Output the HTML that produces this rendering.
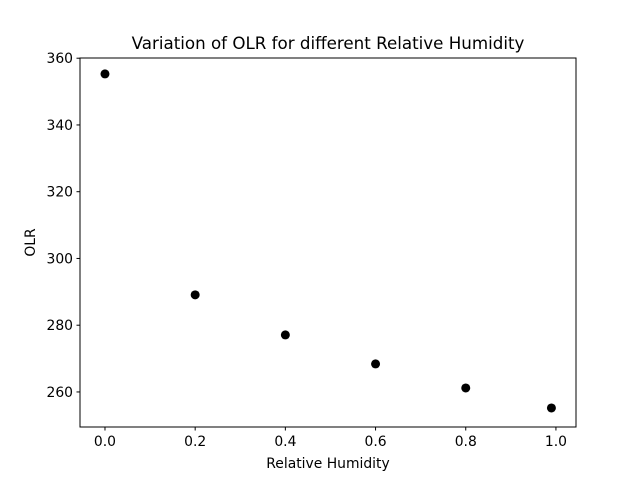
<!DOCTYPE html>
<html><head><meta charset="utf-8"><style>
body{margin:0;background:#fff;}
svg{display:block;font-family:"DejaVu Sans","Liberation Sans",sans-serif;}
</style></head><body>
<svg id="chart" width="640" height="480">
<rect width="640" height="480" fill="#fff"/>
<text x="328" y="49" text-anchor="middle" font-size="16.7">Variation of OLR for different Relative Humidity</text>
<g id="plot"></g>
<rect x="80" y="58" width="496" height="369" fill="none" stroke="#000" stroke-width="1"/>
<text x="328" y="468" text-anchor="middle" font-size="13.9">Relative Humidity</text>
<text x="35" y="242.5" text-anchor="middle" font-size="13.9" transform="rotate(-90 35 242.5)">OLR</text>
</svg>
<script>
const humidity=[0,0.2,0.4,0.6,0.8,0.99];
const olr=[355.3,289.1,277.1,268.4,261.2,255.2];
const xTicks=[0,0.2,0.4,0.6,0.8,1.0];
const yTicks=[260,280,300,320,340,360];
const L=80,R=576,T=58,B=427;
const xMin=-0.0554,xMax=1.0445,yMin=249.5,yMax=360.06;
const xs=v=>L+(v-xMin)/(xMax-xMin)*(R-L);
const ys=v=>B-(v-yMin)/(yMax-yMin)*(B-T);
const NS="http://www.w3.org/2000/svg";
const g=document.getElementById('plot');
function mk(t,a){const e=document.createElementNS(NS,t);for(const k in a)e.setAttribute(k,a[k]);g.appendChild(e);return e;}
xTicks.forEach(v=>{
 const x=xs(v);
 const l=mk('line',{x1:x,x2:x,y1:B,y2:B+3.5,stroke:'#000'});
 
 
 const t=mk('text',{x:x,y:B+19,'text-anchor':'middle','font-size':13.9});
 t.textContent=v.toFixed(1);
 
 
});
yTicks.forEach(v=>{
 const y=ys(v);
 const l=mk('line',{x1:L-3.5,x2:L,y1:y,y2:y,stroke:'#000'});
 
 
 const t=mk('text',{x:L-7,y:y+5,'text-anchor':'end','font-size':13.9});
 t.textContent=v;
 
 
});
humidity.forEach((h,i)=>{
 const c=mk('circle',{cx:xs(h),cy:ys(olr[i]),r:4.5,fill:'#000'});
 
 
});
</script>
</body></html>
